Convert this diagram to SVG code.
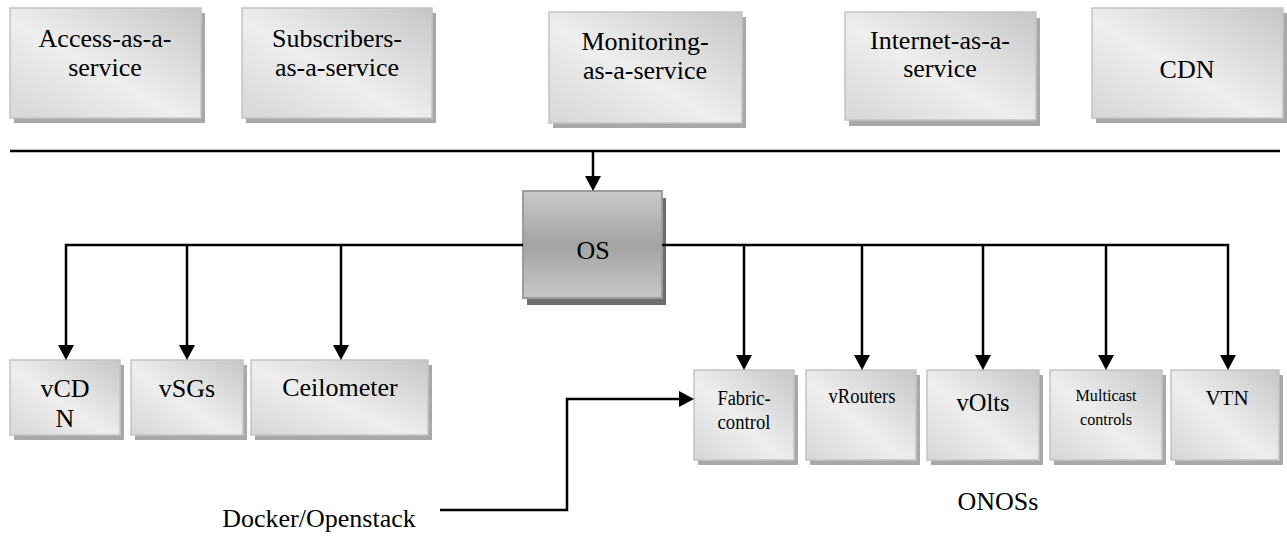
<svg xmlns="http://www.w3.org/2000/svg" width="1287" height="536" viewBox="0 0 1287 536">
  <style>
    .box { fill: url(#boxFill); stroke: #c4c4c4; stroke-width: 1.5; }
    .shadow { fill: #a8a8a8; }
    .osbox { fill: url(#osFill); stroke: #9c9c9c; stroke-width: 2; }
    .osshadow { fill: #6e6e6e; }
    .lbl { font-family: "Liberation Serif", "Times New Roman", serif; fill: #000; text-anchor: middle; }
    .big { font-size: 26px; }
    .wire { fill: none; stroke: #000; stroke-width: 2.5; }
  </style>
  <defs>
    <linearGradient id="boxFill" x1="1" y1="0" x2="0" y2="1">
      <stop offset="0" stop-color="#c6c6c6"/>
      <stop offset="0.55" stop-color="#eeeeee"/>
      <stop offset="1" stop-color="#d6d6d6"/>
    </linearGradient>
    <linearGradient id="osFill" x1="0" y1="0" x2="0" y2="1">
      <stop offset="0" stop-color="#cacaca"/>
      <stop offset="0.5" stop-color="#a3a3a3"/>
      <stop offset="1" stop-color="#c6c6c6"/>
    </linearGradient>
    <marker id="arrow" markerUnits="userSpaceOnUse" markerWidth="15" markerHeight="16" refX="0" refY="8" orient="auto">
      <path d="M0,0 L15,8 L0,16 z" fill="#000"/>
    </marker>
  </defs>

  <!-- service layer -->
  <g id="access">
    <rect class="shadow" x="14" y="13" width="191" height="110"/>
    <rect class="box" x="10" y="8" width="191" height="110"/>
    <text class="lbl big" x="105" y="47">Access-as-a-</text>
    <text class="lbl big" x="105" y="76">service</text>
  </g>
  <g id="subscribers">
    <rect class="shadow" x="246" y="13" width="190" height="110"/>
    <rect class="box" x="242" y="8" width="190" height="110"/>
    <text class="lbl big" x="337" y="47">Subscribers-</text>
    <text class="lbl big" x="337" y="76">as-a-service</text>
  </g>
  <g id="monitoring">
    <rect class="shadow" x="553" y="17" width="193" height="111"/>
    <rect class="box" x="549" y="12" width="193" height="111"/>
    <text class="lbl big" x="645" y="50">Monitoring-</text>
    <text class="lbl big" x="645" y="79">as-a-service</text>
  </g>
  <g id="internet">
    <rect class="shadow" x="849" y="18" width="191" height="108"/>
    <rect class="box" x="845" y="12" width="191" height="108"/>
    <text class="lbl big" x="940" y="49">Internet-as-a-</text>
    <text class="lbl big" x="940" y="77">service</text>
  </g>
  <g id="cdn">
    <rect class="shadow" x="1096" y="13" width="191" height="110"/>
    <rect class="box" x="1092" y="8" width="191" height="110"/>
    <text class="lbl big" x="1187" y="78">CDN</text>
  </g>

  <!-- orchestrator -->
  <g id="os">
    <rect class="osshadow" x="527" y="198" width="139" height="107"/>
    <rect class="osbox" x="523" y="191" width="139" height="107"/>
    <text class="lbl big" x="593" y="259">OS</text>
  </g>

  <!-- services hosted on OS -->
  <g id="vcdn">
    <rect class="shadow" x="14" y="365" width="110" height="75"/>
    <rect class="box" x="10" y="360" width="110" height="75"/>
    <text class="lbl big" x="65" y="397">vCD</text>
    <text class="lbl big" x="65" y="427">N</text>
  </g>
  <g id="vsgs">
    <rect class="shadow" x="135" y="365" width="112" height="75"/>
    <rect class="box" x="131" y="360" width="112" height="75"/>
    <text class="lbl big" x="187" y="397">vSGs</text>
  </g>
  <g id="ceilometer">
    <rect class="shadow" x="255" y="365" width="177" height="75"/>
    <rect class="box" x="251" y="360" width="177" height="75"/>
    <text class="lbl big" x="340" y="396">Ceilometer</text>
  </g>

  <!-- ONOS applications -->
  <g id="fabric-control">
    <rect class="shadow" x="698" y="375" width="100" height="90"/>
    <rect class="box" x="694" y="370" width="100" height="90"/>
    <text class="lbl" x="744" y="405" font-size="20" textLength="53" lengthAdjust="spacingAndGlyphs">Fabric-</text>
    <text class="lbl" x="744" y="429" font-size="20" textLength="53" lengthAdjust="spacingAndGlyphs">control</text>
  </g>
  <g id="vrouters">
    <rect class="shadow" x="810" y="375" width="110" height="90"/>
    <rect class="box" x="806" y="370" width="110" height="90"/>
    <text class="lbl" x="862" y="403" font-size="20" textLength="67" lengthAdjust="spacingAndGlyphs">vRouters</text>
  </g>
  <g id="volts">
    <rect class="shadow" x="931" y="375" width="112" height="90"/>
    <rect class="box" x="927" y="370" width="112" height="90"/>
    <text class="lbl" x="983" y="411" font-size="26" textLength="53" lengthAdjust="spacingAndGlyphs">vOlts</text>
  </g>
  <g id="multicast">
    <rect class="shadow" x="1054" y="375" width="112" height="90"/>
    <rect class="box" x="1050" y="370" width="112" height="90"/>
    <text class="lbl" x="1106" y="401" font-size="17" textLength="61" lengthAdjust="spacingAndGlyphs">Multicast</text>
    <text class="lbl" x="1106" y="425" font-size="17" textLength="52" lengthAdjust="spacingAndGlyphs">controls</text>
  </g>
  <g id="vtn">
    <rect class="shadow" x="1175" y="375" width="108" height="90"/>
    <rect class="box" x="1171" y="370" width="108" height="90"/>
    <text class="lbl" x="1227" y="405" font-size="21">VTN</text>
  </g>

  <!-- free labels -->
  <g id="docker">
    <text class="lbl big" x="319" y="527">Docker/Openstack</text>
  </g>
  <g id="onoss">
    <text class="lbl big" x="998" y="510">ONOSs</text>
  </g>

  <!-- connectors -->
  <g id="connectors">
    <path class="wire" d="M10,151 H1280" stroke-width="2"/>
    <path class="wire" d="M593,151 V176" marker-end="url(#arrow)"/>
    <path class="wire" d="M523,245 H66 V345" marker-end="url(#arrow)"/>
    <path class="wire" d="M187,245 V345" marker-end="url(#arrow)"/>
    <path class="wire" d="M341,245 V345" marker-end="url(#arrow)"/>
    <path class="wire" d="M662,245 H1228 V355" marker-end="url(#arrow)"/>
    <path class="wire" d="M744,245 V355" marker-end="url(#arrow)"/>
    <path class="wire" d="M862,245 V355" marker-end="url(#arrow)"/>
    <path class="wire" d="M983,245 V355" marker-end="url(#arrow)"/>
    <path class="wire" d="M1106,245 V355" marker-end="url(#arrow)"/>
    <path class="wire" d="M440,510 H567 V399 H679" marker-end="url(#arrow)"/>
  </g>
</svg>
